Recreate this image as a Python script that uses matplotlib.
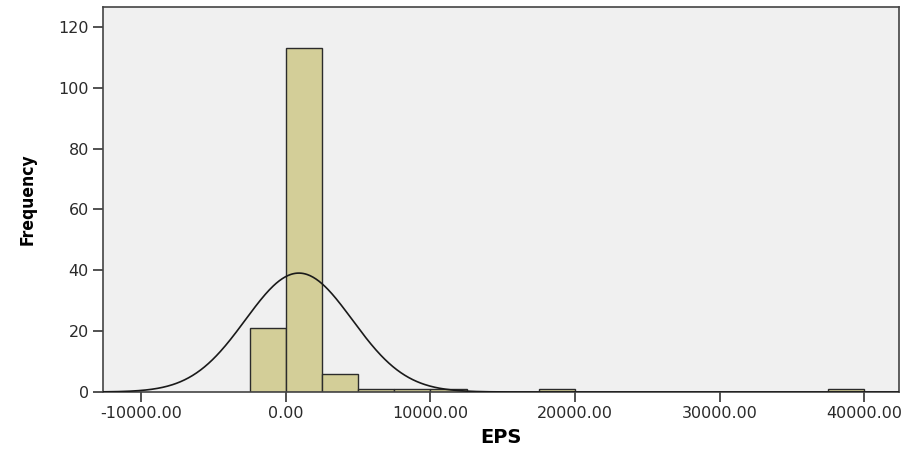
import numpy as np
import matplotlib
matplotlib.use("Agg")
import matplotlib.pyplot as plt

# Histogram data (bin left edges, counts), bin width 2500
bin_lefts = [-2500, 0, 2500, 5000, 7500, 10000, 17500, 37500]
counts = [21, 113, 6, 1, 1, 1, 1, 1]
bin_width = 2500

# Fitted normal curve parameters
mean_eps = 900.0
sd_eps = 3700.0
n_obs = sum(counts)

x_ticks = [-10000, 0, 10000, 20000, 30000, 40000]
x_tick_labels = ["-10000.00", "0.00", "10000.00", "20000.00", "30000.00", "40000.00"]
y_ticks = [0, 20, 40, 60, 80, 100, 120]

fig = plt.figure(figsize=(9.10, 4.49), dpi=100)
ax = fig.add_axes([0.113, 0.127, 0.875, 0.857])
ax.set_facecolor("#F0F0F0")

ax.bar(bin_lefts, counts, width=bin_width, align="edge",
       color="#D3CE98", edgecolor="#2b2b2b", linewidth=1.0, zorder=2)

xlim = (-12660, 42420)
xs = np.linspace(xlim[0], xlim[1], 800)
ys = n_obs * bin_width / (sd_eps * np.sqrt(2 * np.pi)) * np.exp(-0.5 * ((xs - mean_eps) / sd_eps) ** 2)
ax.plot(xs, ys, color="#1a1a1a", linewidth=1.2, zorder=3)

ax.set_xlim(*xlim)
ax.set_ylim(0, 126.5)
ax.set_xticks(x_ticks)
ax.set_xticklabels(x_tick_labels, fontsize=11.5, family="DejaVu Sans", color="#2a2a2a")
ax.set_yticks(y_ticks)
ax.set_yticklabels([str(v) for v in y_ticks], fontsize=11.5, family="DejaVu Sans", color="#2a2a2a")
ax.tick_params(axis="both", direction="out", length=7, width=1.2, color="#333333", pad=3)

for s in ax.spines.values():
    s.set_color("#444444")
    s.set_linewidth(1.2)

ax.set_xlabel("EPS", fontsize=14, fontweight="bold", family="DejaVu Sans", labelpad=5)
ax.set_ylabel("Frequency", fontsize=12.5, fontweight="bold", fontstretch="condensed",
              family="DejaVu Sans", labelpad=16)

fig.savefig("out.png", dpi=100, facecolor="white")
